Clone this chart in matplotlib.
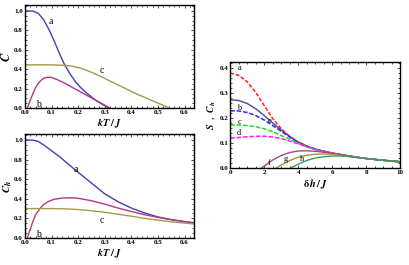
import matplotlib
matplotlib.use("Agg")
import matplotlib.pyplot as plt
from matplotlib.ticker import MultipleLocator, FormatStrFormatter

plt.rcParams['font.family'] = ['Liberation Serif', 'DejaVu Serif']
plt.rcParams['mathtext.fontset'] = 'stix'

# ---- top-left: C vs kT/J ----
top_a_x = [0, 0.03, 0.05, 0.07, 0.09, 0.11, 0.13, 0.15, 0.17, 0.19, 0.21, 0.23, 0.25, 0.27, 0.29, 0.31, 0.315]
top_a_y = [1.0, 0.998, 0.975, 0.91, 0.81, 0.69, 0.56, 0.44, 0.35, 0.27, 0.21, 0.16, 0.115, 0.075, 0.04, 0.008, 0.0]
top_b_x = [0.009, 0.02, 0.03, 0.04, 0.05, 0.06, 0.07, 0.08, 0.09, 0.10, 0.12, 0.15, 0.18, 0.21, 0.24, 0.27, 0.30, 0.32]
top_b_y = [0, 0.08, 0.15, 0.21, 0.255, 0.285, 0.305, 0.315, 0.318, 0.315, 0.295, 0.255, 0.21, 0.165, 0.12, 0.075, 0.03, 0.0]
top_c_x = [0, 0.05, 0.10, 0.15, 0.18, 0.21, 0.24, 0.27, 0.30, 0.33, 0.36, 0.39, 0.42, 0.45, 0.48, 0.51, 0.54, 0.545]
top_c_y = [0.445, 0.445, 0.445, 0.44, 0.43, 0.41, 0.38, 0.345, 0.305, 0.265, 0.225, 0.185, 0.145, 0.11, 0.075, 0.04, 0.005, 0]

# ---- bottom-left: C_h vs kT/J ----
bot_a_x = [0, 0.03, 0.05, 0.07, 0.1, 0.13, 0.16, 0.2, 0.25, 0.3, 0.35, 0.4, 0.45, 0.5, 0.55, 0.6, 0.65]
bot_a_y = [1.0, 0.998, 0.985, 0.95, 0.89, 0.83, 0.76, 0.67, 0.56, 0.45, 0.37, 0.305, 0.255, 0.215, 0.187, 0.167, 0.152]
bot_b_x = [0.009, 0.02, 0.03, 0.04, 0.055, 0.07, 0.09, 0.11, 0.14, 0.17, 0.2, 0.25, 0.3, 0.35, 0.4, 0.45, 0.5, 0.55, 0.6, 0.65]
bot_b_y = [0, 0.09, 0.17, 0.235, 0.296, 0.34, 0.375, 0.395, 0.407, 0.41, 0.405, 0.38, 0.345, 0.305, 0.27, 0.237, 0.21, 0.187, 0.166, 0.148]
bot_c_x = [0, 0.05, 0.1, 0.15, 0.2, 0.25, 0.3, 0.35, 0.4, 0.45, 0.5, 0.55, 0.6, 0.65]
bot_c_y = [0.30, 0.30, 0.30, 0.297, 0.29, 0.278, 0.262, 0.242, 0.222, 0.2, 0.182, 0.165, 0.152, 0.14]

# ---- right: S, C_h vs delta h / J ----
r_x = [0, 0.5, 1, 1.5, 2, 2.5, 3, 3.5, 4, 4.5, 5, 5.5, 6, 7, 8, 9, 10]
r_a = [0.38, 0.37, 0.345, 0.303, 0.25, 0.198, 0.157, 0.126, 0.103, 0.088, 0.076, 0.067, 0.06, 0.048, 0.038, 0.031, 0.025]
r_e = [0.273, 0.27, 0.258, 0.237, 0.21, 0.18, 0.152, 0.126, 0.104, 0.088, 0.076, 0.067, 0.06, 0.048, 0.038, 0.031, 0.025]
r_b = [0.229, 0.228, 0.222, 0.21, 0.192, 0.17, 0.147, 0.124, 0.103, 0.087, 0.076, 0.067, 0.06, 0.048, 0.038, 0.031, 0.025]
r_c = [0.172, 0.172, 0.17, 0.165, 0.157, 0.145, 0.13, 0.115, 0.099, 0.085, 0.074, 0.066, 0.059, 0.047, 0.038, 0.031, 0.025]
r_d = [0.12, 0.122, 0.125, 0.127, 0.127, 0.124, 0.118, 0.108, 0.097, 0.085, 0.074, 0.066, 0.059, 0.047, 0.038, 0.031, 0.025]
r_f_x = [1.85, 2.0, 2.25, 2.5, 3, 3.5, 4, 4.5, 5, 5.5, 6, 7, 8, 9, 10]
r_f_y = [0, 0.008, 0.02, 0.032, 0.05, 0.062, 0.068, 0.069, 0.067, 0.063, 0.059, 0.047, 0.038, 0.031, 0.025]
r_g_x = [2.7, 3, 3.5, 4, 4.5, 5, 5.5, 6, 7, 8, 9, 10]
r_g_y = [0, 0.012, 0.03, 0.043, 0.051, 0.055, 0.056, 0.055, 0.047, 0.038, 0.031, 0.025]
r_h_x = [3.55, 4, 4.5, 5, 5.5, 6, 6.5, 7, 8, 9, 10]
r_h_y = [0, 0.015, 0.03, 0.04, 0.045, 0.048, 0.048, 0.046, 0.038, 0.031, 0.025]

BLUE = '#4040b8'
MAG = '#b03a80'
OLIVE = '#a89848'

fig = plt.figure(figsize=(4.09, 2.65), dpi=100)
ax1 = fig.add_axes([0.061, 0.592, 0.413, 0.389])
ax2 = fig.add_axes([0.061, 0.102, 0.413, 0.392])
ax3 = fig.add_axes([0.563, 0.366, 0.415, 0.400])

def style(ax, xmaj, xmin, ymaj, ymin):
    ax.xaxis.set_major_locator(MultipleLocator(xmaj))
    ax.xaxis.set_minor_locator(MultipleLocator(xmin))
    ax.yaxis.set_major_locator(MultipleLocator(ymaj))
    ax.yaxis.set_minor_locator(MultipleLocator(ymin))
    ax.tick_params(which='both', direction='in', top=True, right=True,
                   labelsize=5, pad=1.5, width=0.5)
    ax.tick_params(which='major', length=2.5)
    ax.tick_params(which='minor', length=1.3)
    for lab in ax.get_xticklabels() + ax.get_yticklabels():
        lab.set_fontweight('bold')
    for s in ax.spines.values():
        s.set_linewidth(1.0)

lw = 1.0
ax1.plot(top_a_x, top_a_y, color=BLUE, lw=lw)
ax1.plot(top_b_x, top_b_y, color=MAG, lw=lw)
ax1.plot(top_c_x, top_c_y, color=OLIVE, lw=lw)
ax1.set_xlim(0, 0.635)
ax1.set_ylim(0, 1.06)
style(ax1, 0.1, 0.02, 0.2, 0.05)
ax1.xaxis.set_major_formatter(FormatStrFormatter('%.1f'))
ax1.yaxis.set_major_formatter(FormatStrFormatter('%.1f'))
ax1.text(0.097, 0.89, 'a', fontsize=7, ha='center', va='center')
ax1.text(0.29, 0.39, 'c', fontsize=7, ha='center', va='center')
ax1.text(0.05, 0.04, 'b', fontsize=7, ha='center', va='center')
ax1.set_ylabel(r'$\mathbfit{C}$', fontsize=9)
ax1.yaxis.set_label_coords(-0.07, 0.5)
ax1.set_xlabel(r'$\mathbfit{kT}\,\mathbf{/}\,\mathbfit{J}$', fontsize=7.5, labelpad=1)

ax2.plot(bot_a_x, bot_a_y, color=BLUE, lw=lw)
ax2.plot(bot_b_x, bot_b_y, color=MAG, lw=lw)
ax2.plot(bot_c_x, bot_c_y, color=OLIVE, lw=lw)
ax2.set_xlim(0, 0.635)
ax2.set_ylim(0, 1.06)
style(ax2, 0.1, 0.02, 0.2, 0.05)
ax2.xaxis.set_major_formatter(FormatStrFormatter('%.1f'))
ax2.yaxis.set_major_formatter(FormatStrFormatter('%.1f'))
ax2.text(0.19, 0.70, 'a', fontsize=7, ha='center', va='center')
ax2.text(0.29, 0.18, 'c', fontsize=7, ha='center', va='center')
ax2.text(0.05, 0.04, 'b', fontsize=7, ha='center', va='center')
ax2.set_ylabel(r'$\mathbfit{C}_{\mathbfit{h}}$', fontsize=8)
ax2.yaxis.set_label_coords(-0.067, 0.5)
ax2.set_xlabel(r'$\mathbfit{kT}\,\mathbf{/}\,\mathbfit{J}$', fontsize=7.5, labelpad=1)

ax3.plot(r_x, r_e, color='#4a4aa0', lw=lw)
ax3.plot(r_x, r_a, color='#ff2020', lw=1.1, dashes=(2.5, 1.2))
ax3.plot(r_x, r_b, color='#2030ff', lw=1.1, dashes=(3, 1.2))
ax3.plot(r_x, r_c, color='#20e020', lw=1.1, dashes=(3, 1.2))
ax3.plot(r_x, r_d, color='#ff20ff', lw=1.1, dashes=(3, 1.2))
ax3.plot(r_f_x, r_f_y, color='#a84880', lw=lw)
ax3.plot(r_g_x, r_g_y, color='#a89040', lw=lw)
ax3.plot(r_h_x, r_h_y, color='#3a9a60', lw=lw)
ax3.set_xlim(0, 10)
ax3.set_ylim(0, 0.424)
style(ax3, 2, 0.5, 0.1, 0.02)
ax3.yaxis.set_major_formatter(FormatStrFormatter('%.1f'))
for t, x, y in [('a', 0.55, 0.40), ('b', 0.53, 0.24), ('c', 0.53, 0.186),
                ('d', 0.5, 0.139), ('e', 2.3, 0.19), ('f', 2.3, 0.021),
                ('g', 3.27, 0.035), ('h', 4.25, 0.035)]:
    ax3.text(x, y, t, fontsize=6, ha='center', va='center')
ax3.set_ylabel(r'$\mathbfit{S}$  ,  $\mathbfit{C}_{\mathbfit{h}}$', fontsize=7)
ax3.yaxis.set_label_coords(-0.075, 0.5)
ax3.set_xlabel(r'$\mathbf{\delta}\,\mathbfit{h}\,\mathbf{/}\,\mathbfit{J}$', fontsize=7.5, labelpad=2)

fig.savefig('out.png', dpi=100)
